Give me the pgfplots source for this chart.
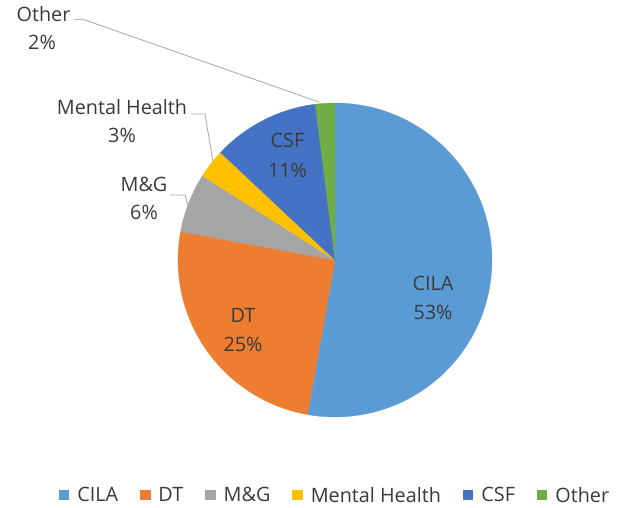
\documentclass[border=0pt]{standalone}
\usepackage{pgfplots}
\pgfplotsset{compat=1.18}
\usepackage{fontspec}
\setmainfont{Open Sans}
\definecolor{cCILA}{HTML}{5B9BD5}
\definecolor{cDT}{HTML}{ED7D31}
\definecolor{cMG}{HTML}{A5A5A5}
\definecolor{cMH}{HTML}{FFC000}
\definecolor{cCSF}{HTML}{4472C4}
\definecolor{cOther}{HTML}{70AD47}
\definecolor{txt}{HTML}{3A3A3A}
\definecolor{lead}{HTML}{A6A6A6}
% slice: start angle, percent, colour
\newcommand{\slice}[3]{%
  \pgfmathsetmacro\sA{#1}%
  \pgfmathsetmacro\sB{#1-3.6*#2}%
  \edef\tmp{\noexpand\addplot[fill=#3, draw=#3, line width=0.3pt, domain=\sB:\sA, samples=90, forget plot]
    ({335+157*cos(x)},{244+157*sin(x)}) -- (axis cs:335,244) -- cycle;}%
  \tmp}
\pgfplotsset{sq/.style={legend image code/.code={\fill[#1] (0pt,-4pt) rectangle (9.5pt,5.5pt); \path (16pt,0pt);}}}
\newcommand{\lf}{\fontsize{19.8}{24}\selectfont}
\begin{document}
\begin{tikzpicture}
\begin{axis}[
  scale only axis, width=633pt, height=504pt,
  xmin=0, xmax=633, ymin=0, ymax=504,
  hide axis, clip=false,
  legend columns=6,
  legend style={at={(axis cs:335,8.5)}, anchor=center, draw=none, fill=none,
    font=\lf, text=txt,
    /tikz/every even column/.append style={column sep=20pt},
    /tikz/every odd column/.append style={column sep=0pt}},
  legend cell align=left,
]
% values (percent): CILA 52.8, DT 25.1, M&G 6.1, Mental Health 3.0, CSF 11.0, Other 2.0
\slice{90}{52.8}{cCILA}
\slice{-100.08}{25.1}{cDT}
\slice{-190.44}{6.1}{cMG}
\slice{-212.40}{3.0}{cMH}
\slice{-223.20}{11.0}{cCSF}
\slice{-262.80}{2.0}{cOther}

\addplot[lead, line width=0.8pt, forget plot] coordinates {(74,484) (82,485) (319,402)};
\addplot[lead, line width=0.8pt, forget plot] coordinates {(191,390) (205,390) (213,342)};
\addplot[lead, line width=0.8pt, forget plot] coordinates {(170,309) (185,309) (188,299)};

\addlegendimage{sq=cCILA}\addlegendentry{CILA}
\addlegendimage{sq=cDT}\addlegendentry{DT}
\addlegendimage{sq=cMG}\addlegendentry{M\&G}
\addlegendimage{sq=cMH}\addlegendentry{Mental Health}
\addlegendimage{sq=cCSF}\addlegendentry{CSF}
\addlegendimage{sq=cOther}\addlegendentry{Other}

\path (axis cs:0,0) rectangle (axis cs:633,504);
\begin{scope}[every node/.style={anchor=base, text=txt, font=\lf, inner sep=0pt}]
\node at (axis cs:433,213) {CILA};
\node at (axis cs:433,184) {53\%};
\node at (axis cs:243,181) {DT};
\node at (axis cs:243,152) {25\%};
\node at (axis cs:287.5,356) {CSF};
\node at (axis cs:287.5,326) {11\%};
\node at (axis cs:144,312) {M\&G};
\node at (axis cs:144,284) {6\%};
\node at (axis cs:122,389) {Mental Health};
\node at (axis cs:122,361) {3\%};
\node at (axis cs:43.5,482) {Other};
\node at (axis cs:42,454) {2\%};
\end{scope}
\end{axis}
\end{tikzpicture}
\end{document}
